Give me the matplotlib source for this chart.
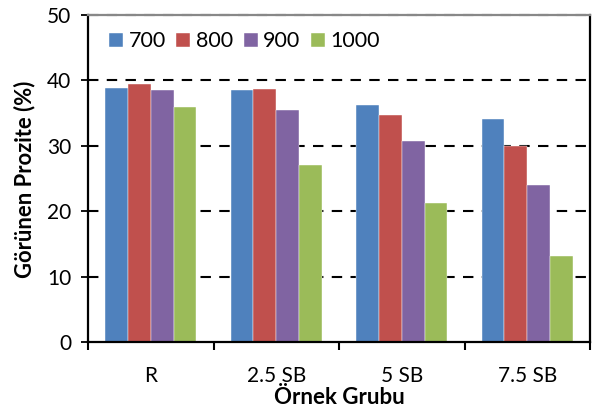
import numpy as np
import matplotlib
matplotlib.use("Agg")
import matplotlib.pyplot as plt

plt.rc('font', family=['Lato', 'DejaVu Sans'])

groups = ["R", "2.5 SB", "5 SB", "7.5 SB"]
series = ["700", "800", "900", "1000"]
v700 = [38.8, 38.6, 36.2, 34.1]
v800 = [39.5, 38.7, 34.7, 29.9]
v900 = [38.6, 35.4, 30.8, 24.0]
v1000 = [35.9, 27.0, 21.2, 13.1]
values = [v700, v800, v900, v1000]
colors = ["#4F81BD", "#C0504D", "#8064A2", "#9BBB59"]

fig = plt.figure(figsize=(5.95, 4.12), dpi=100)
ax = fig.add_axes([88/595, 70/412, 502/595, 327/412])

x = np.arange(len(groups))
bw = 0.182
for i, (name, vals, col) in enumerate(zip(series, values, colors)):
    ax.bar(x + (i - 1.5)*bw, vals, width=bw, color=col, label=name,
           edgecolor='white', linewidth=0.3, zorder=2)

ax.set_xlim(-0.5, len(groups) - 0.5)
ax.set_ylim(0, 50)
ax.set_yticks(np.arange(0, 51, 10))
ax.set_xticks(x)
ax.set_xticklabels(groups)
ax.set_xticks(np.arange(-0.5, len(groups)), minor=True)

for yv in [10, 20, 30, 40, 50]:
    ax.axhline(yv, color='black', lw=1.5, dashes=(5, 4), zorder=1, clip_on=False)

ax.tick_params(axis='x', which='major', length=0, labelsize=15, pad=17)
ax.tick_params(axis='x', which='minor', length=6, width=1.5, direction='out')
ax.tick_params(axis='y', length=10, width=1.3, direction='inout', labelsize=15, pad=7)

for s in ['left', 'bottom', 'right']:
    ax.spines[s].set_linewidth(1.6)
    ax.spines[s].set_color('black')
ax.spines['top'].set_color('#888888')
ax.spines['top'].set_linewidth(1.6)

ax.set_ylabel("Görünen Prozite (%)", fontsize=15.8, fontweight='bold', va='center')
ax.yaxis.set_label_coords(-0.1255, 0.498)
ax.set_xlabel("Örnek Grubu", fontsize=16, fontweight='bold', va='center')
ax.xaxis.set_label_coords(0.5, -0.171)

ax.legend(loc='upper left', ncol=4, frameon=False, fontsize=15.5,
          handlelength=0.65, handleheight=0.65, handletextpad=0.25,
          columnspacing=0.5, borderpad=0, borderaxespad=0,
          bbox_to_anchor=(0.042, 0.95))

fig.savefig("out.png", dpi=100)
